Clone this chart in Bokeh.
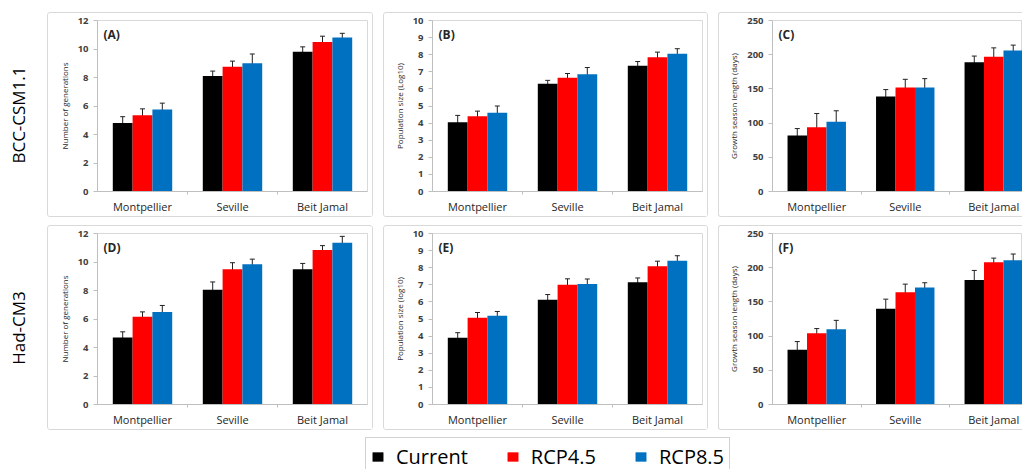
import numpy as np
from bokeh.plotting import figure
from bokeh.models import (ColumnDataSource, FixedTicker, Whisker, TeeHead, Label,
                          Legend, LegendItem, Range1d, Spacer)
from bokeh.layouts import row, column
from bokeh.embed import file_html
from bokeh.resources import INLINE

# ---------------- data ----------------
sites = ["Montpellier", "Seville", "Beit Jamal"]
scenarios = ["Current", "RCP4.5", "RCP8.5"]
colors = ["#000000", "#FF0000", "#0070C0"]
models = ["BCC-CSM1.1", "Had-CM3"]
letters = ["(A)", "(B)", "(C)", "(D)", "(E)", "(F)"]
ylabels = ["Number of generations", "Population size (Log10)", "Growth season length (days)",
           "Number of generations", "Population size (log10)", "Growth season length (days)"]
ymax_list = [12, 10, 250, 12, 10, 250]
ystep_list = [2, 1, 50, 2, 1, 50]

# (A) BCC-CSM1.1 number of generations
a_current = [4.8, 8.1, 9.8]
a_rcp45 = [5.35, 8.75, 10.5]
a_rcp85 = [5.75, 9.0, 10.8]
a_err_current = [0.45, 0.35, 0.35]
a_err_rcp45 = [0.45, 0.4, 0.4]
a_err_rcp85 = [0.45, 0.65, 0.3]

# (B) BCC-CSM1.1 population size
b_current = [4.05, 6.3, 7.35]
b_rcp45 = [4.4, 6.65, 7.85]
b_rcp85 = [4.6, 6.85, 8.05]
b_err_current = [0.4, 0.2, 0.25]
b_err_rcp45 = [0.3, 0.25, 0.3]
b_err_rcp85 = [0.4, 0.4, 0.3]

# (C) BCC-CSM1.1 growth season length
c_current = [82, 139, 189]
c_rcp45 = [94, 152, 197]
c_rcp85 = [102, 152, 206]
c_err_current = [10, 10, 9]
c_err_rcp45 = [20, 12, 13]
c_err_rcp85 = [16, 13, 8]

# (D) Had-CM3 number of generations
d_current = [4.7, 8.05, 9.5]
d_rcp45 = [6.15, 9.5, 10.85]
d_rcp85 = [6.5, 9.85, 11.35]
d_err_current = [0.4, 0.55, 0.4]
d_err_rcp45 = [0.35, 0.45, 0.3]
d_err_rcp85 = [0.45, 0.35, 0.45]

# (E) Had-CM3 population size
e_current = [3.9, 6.13, 7.15]
e_rcp45 = [5.08, 7.0, 8.08]
e_rcp85 = [5.19, 7.04, 8.4]
e_err_current = [0.3, 0.3, 0.25]
e_err_rcp45 = [0.3, 0.35, 0.3]
e_err_rcp85 = [0.25, 0.3, 0.3]

# (F) Had-CM3 growth season length
f_current = [80, 140, 182]
f_rcp45 = [104, 164, 208]
f_rcp85 = [110, 171, 211]
f_err_current = [12, 14, 14]
f_err_rcp45 = [7, 12, 6]
f_err_rcp85 = [13, 7, 9]

panels = [
    ([a_current, a_rcp45, a_rcp85], [a_err_current, a_err_rcp45, a_err_rcp85]),
    ([b_current, b_rcp45, b_rcp85], [b_err_current, b_err_rcp45, b_err_rcp85]),
    ([c_current, c_rcp45, c_rcp85], [c_err_current, c_err_rcp45, c_err_rcp85]),
    ([d_current, d_rcp45, d_rcp85], [d_err_current, d_err_rcp45, d_err_rcp85]),
    ([e_current, e_rcp45, e_rcp85], [e_err_current, e_err_rcp45, e_err_rcp85]),
    ([f_current, f_rcp45, f_rcp85], [f_err_current, f_err_rcp45, f_err_rcp85]),
]

FONT = "Open Sans"
FRAME_COLOR = "#d9d9d9"
AXIS_COLOR = "#bfbfbf"
TEXT_COLOR = "#262626"

# geometry per column: (figure width, left border, right border, category px)
col_geom = [
    (324, 49, 5, 90.0),
    (323, 48, 5, 90.0),
    (303, 53, 0, 88.5),
]
FIG_H = 203
TOP_B, BOT_B = 7, 22


def make_panel(idx):
    means, errs = panels[idx]
    ci = idx % 3
    fw, lb, rb, cat_px = col_geom[ci]
    plot_w = fw - lb - rb
    xmax = plot_w / cat_px
    ymax = ymax_list[idx]
    step = ystep_list[idx]
    p = figure(width=fw, height=FIG_H, x_range=Range1d(0, xmax), y_range=Range1d(0, ymax),
               output_backend="svg", toolbar_location=None,
               min_border_left=lb, min_border_right=rb, min_border_top=TOP_B,
               min_border_bottom=BOT_B)
    p.outline_line_color = FRAME_COLOR
    p.outline_line_width = 1
    p.xgrid.visible = False
    p.ygrid.visible = False
    p.background_fill_color = "white"
    p.border_fill_color = "white"

    centers = np.arange(len(sites)) + 0.5
    bw = 0.22
    for k, (vals, ev, col) in enumerate(zip(means, errs, colors)):
        xs = centers + (k - 1) * bw
        v = np.array(vals, dtype=float)
        e = np.array(ev, dtype=float)
        src = ColumnDataSource(dict(x=xs, top=v, upper=v + e, lower=v - e))
        p.vbar(x="x", top="top", width=bw, source=src, fill_color=col, line_color=None)
        w = Whisker(base="x", upper="upper", lower="lower", source=src,
                    line_color="#222222", line_width=1,
                    upper_head=TeeHead(size=5, line_color="#222222", line_width=1),
                    lower_head=TeeHead(size=5, line_color="#222222", line_width=1))
        p.add_layout(w)

    # x axis
    xa = p.xaxis[0]
    xa.ticker = FixedTicker(ticks=list(centers), minor_ticks=[1, 2])
    xa.major_label_overrides = {float(c): s for c, s in zip(centers, sites)}
    xa.major_tick_out = 0
    xa.major_tick_in = 0
    xa.minor_tick_out = 3
    xa.minor_tick_in = 0
    xa.minor_tick_line_color = AXIS_COLOR
    xa.axis_line_color = AXIS_COLOR
    xa.major_label_text_font = FONT
    xa.major_label_text_font_size = "11px"
    xa.major_label_text_color = TEXT_COLOR
    xa.major_label_standoff = 4

    # y axis
    ya = p.yaxis[0]
    ya.ticker = FixedTicker(ticks=list(np.arange(0, ymax + step / 2, step)))
    ya.axis_line_color = AXIS_COLOR
    ya.major_tick_line_color = AXIS_COLOR
    ya.major_tick_out = 4
    ya.major_tick_in = 0
    ya.minor_tick_out = 0
    ya.minor_tick_in = 0
    ya.major_label_text_font = FONT
    ya.major_label_text_font_size = "9.5px"
    ya.major_label_text_font_style = "bold"
    ya.major_label_text_color = "#404040"
    ya.major_label_standoff = 5
    ya.axis_label = ylabels[idx]
    ya.axis_label_text_font = FONT
    ya.axis_label_text_font_size = "8px"
    ya.axis_label_text_font_style = "normal"
    ya.axis_label_text_color = TEXT_COLOR
    ya.axis_label_standoff = 5

    # panel letter
    lab = Label(x=6 / cat_px, y=ymax * (1 - 6 / (FIG_H - TOP_B - BOT_B)), text=letters[idx],
                text_font=FONT, text_font_size="12px", text_font_style="bold",
                text_color=TEXT_COLOR, text_align="left", text_baseline="top")
    p.add_layout(lab)

    border = {"border": f"1px solid {FRAME_COLOR}", "border-radius": "3px"}
    if ci == 2:
        border = {"border-top": f"1px solid {FRAME_COLOR}",
                  "border-bottom": f"1px solid {FRAME_COLOR}",
                  "border-left": f"1px solid {FRAME_COLOR}",
                  "border-radius": "3px 0 0 3px"}
    return column(p, styles=border)


def make_row_label(name):
    p = figure(width=29, height=205, x_range=Range1d(0, 29), y_range=Range1d(0, 1),
               output_backend="svg", toolbar_location=None, x_axis_type=None,
               y_axis_type=None, min_border=0)
    p.outline_line_color = None
    p.xgrid.visible = False
    p.ygrid.visible = False
    p.add_layout(Label(x=10, y=0.5, text=name, angle=np.pi / 2, text_font=FONT,
                       text_font_size="17px", text_color="#000000",
                       text_align="center", text_baseline="middle"))
    return p


rows = []
for r in range(2):
    items = [Spacer(width=8, height=205), make_row_label(models[r])]
    for c in range(3):
        items.append(Spacer(width=10, height=205))
        items.append(make_panel(r * 3 + c))
    rows.append(row(*items, spacing=0))

# legend figure
LEG_X = 365
LEG_W, LEG_H = 1022 - LEG_X, 32
lp = figure(width=LEG_W, height=LEG_H, x_range=Range1d(0, 1), y_range=Range1d(0, 1),
            output_backend="svg", toolbar_location=None, x_axis_type=None,
            y_axis_type=None, min_border=0)
lp.outline_line_color = None
lp.xgrid.visible = False
lp.ygrid.visible = False
leg_items = []
for s, col in zip(scenarios, colors):
    # a bar placed outside the visible range: only its legend swatch is seen
    rr = lp.vbar(x=[-10], top=[0.5], width=0.1, fill_color=col, line_color=col, line_width=0.5)
    leg_items.append(LegendItem(label=s, renderers=[rr]))
legend = Legend(items=leg_items, orientation="horizontal", location="top_left",
                label_text_font=FONT, label_text_font_size="20px", label_text_color="#000000",
                label_text_baseline="middle",
                glyph_width=13, glyph_height=11, label_standoff=12, spacing=38,
                padding=5, margin=0, border_line_color="#a6a6a6", border_line_width=1,
                background_fill_color="white", background_fill_alpha=1.0)
lp.add_layout(legend)

layout = column(Spacer(width=1022, height=12), rows[0], Spacer(width=1022, height=8), rows[1],
                Spacer(width=1022, height=7),
                row(Spacer(width=LEG_X, height=LEG_H), lp, spacing=0), spacing=0)

open("out.html", "w").write(file_html(layout, INLINE))
